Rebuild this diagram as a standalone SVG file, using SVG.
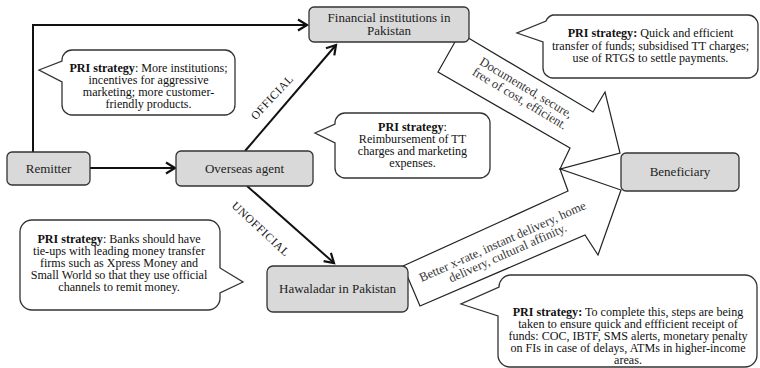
<svg xmlns="http://www.w3.org/2000/svg" width="760" height="368" viewBox="0 0 760 368">
<defs>
<style>
.node rect{fill:#d9d9d9;stroke:#333;stroke-width:1.3}
.nt{font-family:"Liberation Serif","Times New Roman",serif;font-size:13px;fill:#222;text-anchor:middle}
.co path{fill:#fff;stroke:#333;stroke-width:1.3}
.ct{font-family:"Liberation Serif","Times New Roman",serif;font-size:12.1px;fill:#111;text-anchor:middle}
.b{font-weight:bold}
.conn{fill:none;stroke:#111;stroke-width:2}
.blk{fill:#fff;stroke:#222;stroke-width:1.2;stroke-linejoin:miter}
.bt{font-family:"Liberation Serif","Times New Roman",serif;font-size:12.6px;fill:#333;text-anchor:middle}
.lbl{font-family:"Liberation Serif","Times New Roman",serif;font-size:11.5px;fill:#111;text-anchor:middle;letter-spacing:0.6px}
</style>
<marker id="ah" markerUnits="userSpaceOnUse" markerWidth="14" markerHeight="14" viewBox="0 0 14 14" refX="11" refY="7" orient="auto">
<path d="M2,1.5 L11,7 L2,12.5" fill="none" stroke="#111" stroke-width="2.2"/>
</marker>
</defs>

<g id="block-arrows">
<g id="arrow-official">
<polygon class="blk" points="460,33 593,112 605,92 620,153 560,169 570,148 438,72"/>
<g transform="translate(523,93) rotate(31)">
<text class="bt" x="0" y="-2">Documented, secure,</text>
<text class="bt" x="0" y="10.5">free of cost, efficient.</text>
</g>
</g>
<g id="arrow-unofficial">
<polygon class="blk" points="403,266 568,191 560,169 621,190 598,255 585,235 420,306"/>
<g transform="translate(505,247) rotate(-24)">
<text class="bt" x="0" y="-2">Better x-rate, instant delivery, home</text>
<text class="bt" x="0" y="10.5">delivery, cultural affinity.</text>
</g>
</g>
</g>

<g id="connectors">
<path class="conn" d="M33,152 V25 H307" marker-end="url(#ah)"/>
<path class="conn" d="M90,168 H175" marker-end="url(#ah)"/>
<path class="conn" d="M245,151 L336,45" marker-end="url(#ah)"/>
<path class="conn" d="M247,186 L334,263" marker-end="url(#ah)"/>
<text class="lbl" transform="translate(272,97) rotate(-47)" x="0" y="4">OFFICIAL</text>
<text class="lbl" transform="translate(261,229) rotate(43)" x="0" y="4">UNOFFICIAL</text>
</g>

<g id="remitter" class="node">
<rect x="7" y="152" width="83" height="33" rx="5"/>
<text class="nt" x="48.5" y="173">Remitter</text>
</g>
<g id="overseas-agent" class="node">
<rect x="176" y="151" width="137" height="35" rx="5"/>
<text class="nt" x="244.5" y="173">Overseas agent</text>
</g>
<g id="financial-institutions" class="node">
<rect x="309" y="7" width="160" height="35" rx="5"/>
<text class="nt" x="389" y="22">Financial institutions in</text>
<text class="nt" x="389" y="35">Pakistan</text>
</g>
<g id="hawaladar" class="node">
<rect x="267" y="266" width="141" height="46" rx="6"/>
<text class="nt" x="337.5" y="293">Hawaladar in Pakistan</text>
</g>
<g id="beneficiary" class="node">
<rect x="621" y="153" width="118" height="38" rx="5"/>
<text class="nt" x="680" y="176">Beneficiary</text>
</g>

<g id="callout-remitter" class="co">
<path d="M72,50 H225 A10,10 0 0 1 235,60 V105 A10,10 0 0 1 225,115 H72 A10,10 0 0 1 62,105 V82 L39,70 L62,61 V60 A10,10 0 0 1 72,50 Z"/>
<text class="ct" x="148.5" y="72"><tspan class="b">PRI strategy</tspan>: More institutions;</text>
<text class="ct" x="148.5" y="84">incentives for aggressive</text>
<text class="ct" x="148.5" y="96">marketing; more customer-</text>
<text class="ct" x="148.5" y="108">friendly products.</text>
</g>

<g id="callout-agent" class="co">
<path d="M345,113 H480 A10,10 0 0 1 490,123 V168 A10,10 0 0 1 480,178 H345 A10,10 0 0 1 335,168 V143 L315,133 L335,124 V123 A10,10 0 0 1 345,113 Z"/>
<text class="ct" x="412.5" y="131"><tspan class="b">PRI strategy</tspan>:</text>
<text class="ct" x="412.5" y="143">Reimbursement of TT</text>
<text class="ct" x="412.5" y="155">charges and marketing</text>
<text class="ct" x="412.5" y="167">expenses.</text>
</g>

<g id="callout-fi" class="co">
<path d="M553,15 H748 A10,10 0 0 1 758,25 V68 A10,10 0 0 1 748,78 H553 A10,10 0 0 1 543,68 V42 L517,33 L546,21 A10,10 0 0 1 553,15 Z"/>
<text class="ct" x="650.5" y="37"><tspan class="b">PRI strategy:</tspan> Quick and efficient</text>
<text class="ct" x="650.5" y="49.5">transfer of funds; subsidised TT charges;</text>
<text class="ct" x="650.5" y="62">use of RTGS to settle payments.</text>
</g>

<g id="callout-hawaladar" class="co">
<path d="M32,220 H208 A12,12 0 0 1 220,232 V268 L243,282 L220,293 V298 A12,12 0 0 1 208,310 H32 A12,12 0 0 1 20,298 V232 A12,12 0 0 1 32,220 Z"/>
<text class="ct" x="119" y="243"><tspan class="b">PRI strategy</tspan>: Banks should have</text>
<text class="ct" x="119" y="255">tie-ups with leading money transfer</text>
<text class="ct" x="119" y="267">firms such as Xpress Money and</text>
<text class="ct" x="119" y="279">Small World so that they use official</text>
<text class="ct" x="119" y="291">channels to remit money.</text>
</g>

<g id="callout-beneficiary" class="co">
<path d="M510,275 H745 A12,12 0 0 1 757,287 V355 A12,12 0 0 1 745,367 H510 A12,12 0 0 1 498,355 V316 L461,304 L499,287 A12,12 0 0 1 510,275 Z"/>
<text class="ct" x="628" y="316"><tspan class="b">PRI strategy:</tspan> To complete this, steps are being</text>
<text class="ct" x="628" y="328">taken to ensure quick and effficient receipt of</text>
<text class="ct" x="628" y="340">funds: COC, IBTF, SMS alerts, monetary penalty</text>
<text class="ct" x="628" y="352">on FIs in case of delays, ATMs in higher-income</text>
<text class="ct" x="628" y="364">areas.</text>
</g>
</svg>
